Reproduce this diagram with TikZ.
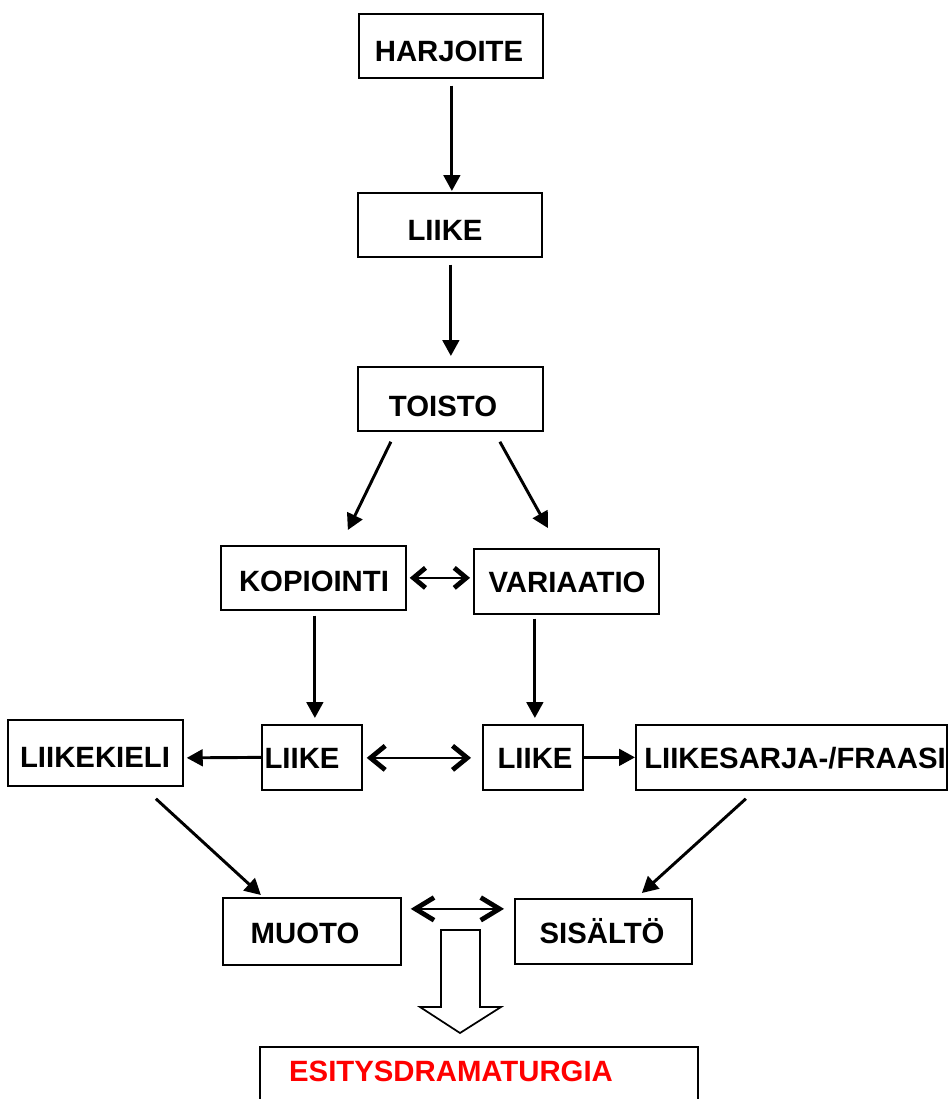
\documentclass[tikz,border=0pt]{standalone}
\usepackage{fontspec}
\setmainfont{Liberation Sans}
\usetikzlibrary{arrows.meta,calc}
\begin{document}
\begin{tikzpicture}[x=0.75pt,y=-0.75pt,
  box/.style 2 args={draw, line width=1.3pt, inner sep=0pt, anchor=north west,
    minimum width=#1*0.75pt, minimum height=#2*0.75pt},
  lbl/.style={font=\fontsize{22}{26}\selectfont\bfseries, anchor=base, inner sep=0pt},
  arr/.style={line width=2.2pt, -{Triangle[length=12pt,width=12.5pt]}},
  dbl/.style 2 args={line width=1.8pt,
    {Straight Barb[length=#1,width=#2,line width=3.6pt]}-{Straight Barb[length=#1,width=#2,line width=3.6pt]}}]
\clip (0,0) rectangle (949,1099);
\useasboundingbox (0,0) rectangle (949,1099);
% boxes
\node[box={184}{64}] (harj) at (358,13) {};
\node[box={184}{64}] (liike1) at (357,192) {};
\node[box={185}{64}] (toisto) at (357,366) {};
\node[box={185}{64}] (kop) at (220,545) {};
\node[box={185}{65}] (var) at (473,548) {};
\node[box={175}{66}] (kieli) at (7,719) {};
\node[box={100}{65}] (liikeL) at (261,724) {};
\node[box={100}{65}] (liikeR) at (482,724) {};
\node[box={311}{65}] (sarja) at (635,724) {};
\node[box={178}{67}] (muoto) at (222,897) {};
\node[box={177}{65}] (sis) at (514,898) {};
\node[box={438}{80}] (esit) at (259,1046) {};
% labels
\node[lbl] at (449,62) {HARJOITE};
\node[lbl] at (445,240) {LIIKE};
\node[lbl] at (443,416) {TOISTO};
\node[lbl] at (314,591) {KOPIOINTI};
\node[lbl] at (567,592) {VARIAATIO};
\node[lbl] at (95,767) {LIIKEKIELI};
\node[lbl] at (302,768) {LIIKE};
\node[lbl] at (535,768) {LIIKE};
\node[lbl] at (795,768) {LIIKESARJA-/FRAASI};
\node[lbl] at (305,943) {MUOTO};
\node[lbl] at (602,943) {SISÄLTÖ};
\node[lbl, text={rgb,255:red,255;green,0;blue,0}] at (451,1081) {ESITYSDRAMATURGIA};
% connectors
\draw[arr] ($(harj.south)+(1,7)$) -- ($(liike1.north)+(2,-1)$);
\draw[arr] ($(liike1.south)+(1,7)$) -- ($(toisto.north)+(0.5,-10)$);
\draw[arr] ($(toisto.south)+(-59.5,10)$) -- ($(kop.north)+(34.5,-15)$);
\draw[arr] ($(toisto.south)+(49.5,10)$) -- ($(var.north)+(-18.5,-20)$);
\draw[dbl={9pt}{15pt}] ($(kop.east)+(3,0)$) -- ($(var.west)+(-3,-3.5)$);
\draw[arr] ($(kop.south)+(1.5,5)$) -- ($(liikeL.north)+(3,-6)$);
\draw[arr] ($(var.south)+(-31.5,4)$) -- ($(liikeR.north)+(2,-6)$);
\draw[arr] (liikeL.west) -- ($(kieli.east)+(3,5)$);
\draw[dbl={11pt}{18pt}] ($(liikeL.east)+(4,0.5)$) -- ($(liikeR.west)+(-11,0.5)$);
\draw[arr] (liikeR.east) -- (sarja.west);
\draw[arr] ($(kieli.south)+(60.5,12)$) -- ($(muoto.north)+(-51,-2)$);
\draw[arr] ($(sarja.south)+(-45.5,8)$) -- ($(sis.north)+(38.5,-5)$);
\draw[dbl={14pt}{17pt}] ($(muoto.east)+(9,-22.5)$) -- ($(sis.west)+(-10,-22.5)$);
% block arrow
\draw[line width=1.3pt, fill=white] (441,930) -- (480,930) -- (480,1007) -- (501,1007)
  -- (460,1033) -- (420,1007) -- (441,1007) -- cycle;
\end{tikzpicture}
\end{document}
